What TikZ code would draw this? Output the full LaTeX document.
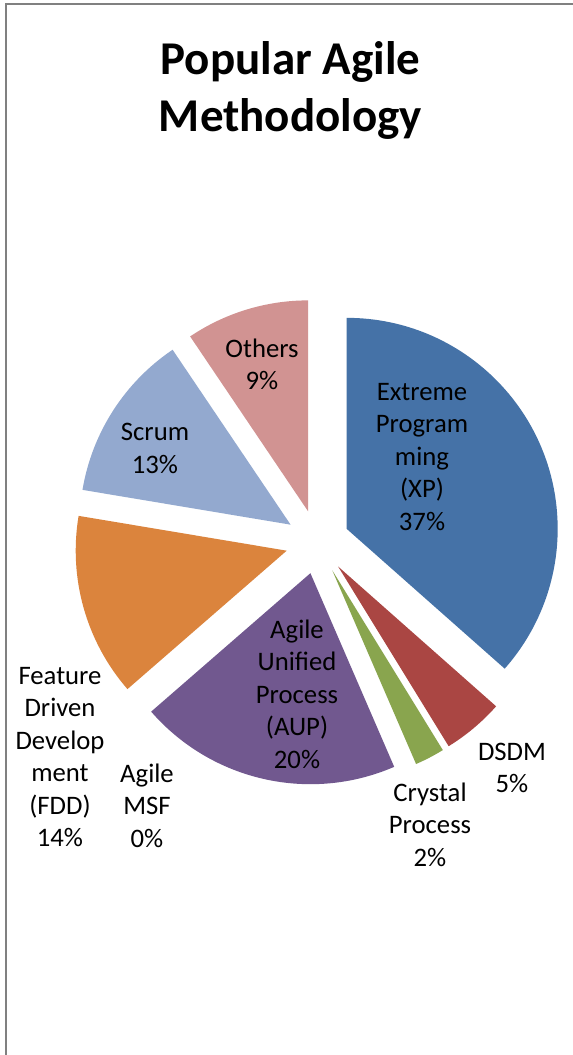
\documentclass[tikz,border=0pt]{standalone}
\usepackage{fontspec}
\setmainfont{Carlito}
\usepackage{tikz}
\usetikzlibrary{calc}

\definecolor{xpblue}{HTML}{4572A7}
\definecolor{dsdmred}{HTML}{AA4643}
\definecolor{crystalgreen}{HTML}{89A54E}
\definecolor{aupviolet}{HTML}{71588F}
\definecolor{fddorange}{HTML}{DB843D}
\definecolor{scrumblue}{HTML}{93A9CF}
\definecolor{otherspink}{HTML}{D19392}
\definecolor{framegray}{HTML}{808080}

\tikzset{
  charttitle/.style={font=\fontsize{47}{57}\selectfont\bfseries, align=center, inner sep=0pt},
  slicelabel/.style={font=\fontsize{26.7}{32.5}\selectfont, align=center, inner sep=0pt}
}

\begin{document}
\begin{tikzpicture}[x=1pt,y=1pt]
		\useasboundingbox (0,0) rectangle (573,1055);
		\fill[white] (0,0) rectangle (573,1055);
		\draw[framegray, line width=2.5pt] (6,0)--(6,1051)--(573,1051);
		\coordinate (C) at (317.5,513);
		\fill[xpblue] ($(C)+(24.25:32pt)$) -- ++(90:211pt) arc[start angle=90, end angle=-41.5, radius=211pt] -- cycle;
		\fill[dsdmred] ($(C)+(-49.95:32pt)$) -- ++(-41.5:211pt) arc[start angle=-41.5, end angle=-58.4, radius=211pt] -- cycle;
		\fill[crystalgreen] ($(C)+(-62.5:32pt)$) -- ++(-58.4:211pt) arc[start angle=-58.4, end angle=-66.6, radius=211pt] -- cycle;
		\fill[aupviolet] ($(C)+(-102.8:32pt)$) -- ++(-66.6:211pt) arc[start angle=-66.6, end angle=-139, radius=211pt] -- cycle;
		\fill[fddorange] ($(C)+(-164.25:32pt)$) -- ++(-139:211pt) arc[start angle=-139, end angle=-189.5, radius=211pt] -- cycle;
		\fill[scrumblue] ($(C)+(-212.75:32pt)$) -- ++(-189.5:211pt) arc[start angle=-189.5, end angle=-236, radius=211pt] -- cycle;
		\fill[otherspink] ($(C)+(-253:32pt)$) -- ++(-236:211pt) arc[start angle=-236, end angle=-270, radius=211pt] -- cycle;
		\node[charttitle] (title) at (290.5,964) {Popular Agile\\Methodology};
		\node[slicelabel] (others) at (262,690.5) {Others\\9\%};
		\node[slicelabel] (scrum) at (155,606.5) {Scrum\\13\%};
		\node[slicelabel] (xp) at (422,598) {Extreme\\Program\\ming\\(XP)\\37\%};
		\node[slicelabel] (aup) at (297,361) {Agile\\Unified\\Process\\(AUP)\\20\%};
		\node[slicelabel] (fdd) at (60,298) {Feature\\Driven\\Develop\\ment\\(FDD)\\14\%};
		\node[slicelabel] (msf) at (147,249.5) {Agile\\MSF\\0\%};
		\node[slicelabel] (crystal) at (430,230.5) {Crystal\\Process\\2\%};
		\node[slicelabel] (dsdm) at (512,287) {DSDM\\5\%};
	\end{tikzpicture}
\end{document}
